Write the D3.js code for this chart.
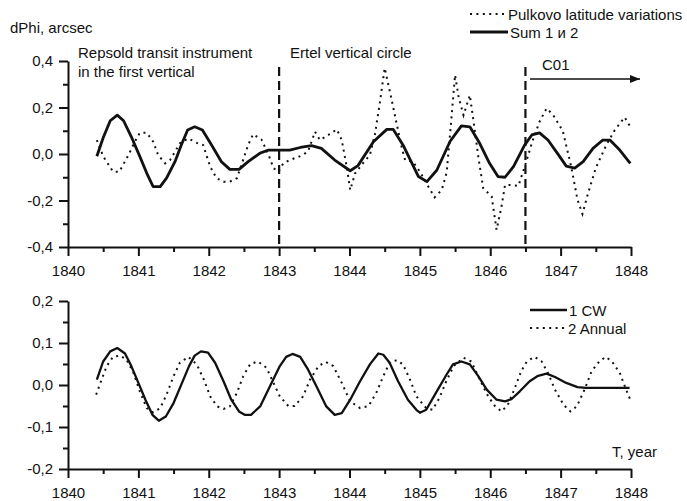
<!DOCTYPE html>
<html>
<head>
<meta charset="utf-8">
<script src="https://cdn.jsdelivr.net/npm/d3@7"></script>
<style>
  html, body { margin: 0; padding: 0; background: #fff; }
  svg { display: block; font-family: "Liberation Sans", Arial, sans-serif; }
  text { fill: #111; }
</style>
</head>
<body>
<svg id="chart" width="687" height="501"></svg>
<script>
// Years on the horizontal axis
const yearTicks = [1840, 1841, 1842, 1843, 1844, 1845, 1846, 1847, 1848];
const topTicks = [-0.4, -0.2, 0, 0.2, 0.4];
const bottomTicks = [-0.2, -0.1, 0, 0.1, 0.2];

// Pulkovo latitude variations, arcsec
const pulkovoT = [1840.41,1840.50,1840.64,1840.73,1840.86,1840.95,1841.02,1841.12,1841.21,1841.28,1841.38,1841.45,1841.52,1841.59,1841.71,1841.83,1841.92,1842.02,1842.11,1842.21,1842.30,1842.40,1842.48,1842.56,1842.63,1842.75,1842.85,1842.92,1842.99,1843.06,1843.15,1843.30,1843.41,1843.51,1843.58,1843.70,1843.82,1843.89,1843.96,1844.01,1844.08,1844.19,1844.29,1844.36,1844.43,1844.50,1844.60,1844.67,1844.74,1844.79,1844.90,1845.00,1845.12,1845.21,1845.31,1845.38,1845.43,1845.50,1845.55,1845.62,1845.71,1845.76,1845.83,1845.90,1846.02,1846.09,1846.16,1846.21,1846.30,1846.40,1846.49,1846.59,1846.70,1846.80,1846.89,1847.03,1847.15,1847.24,1847.31,1847.39,1847.50,1847.65,1847.77,1847.91,1847.99];
const pulkovoV = [0.06,-0.01,-0.076,-0.076,-0.004,0.053,0.091,0.091,0.053,-0.004,-0.04,-0.026,0.01,0.046,0.067,0.048,0.039,-0.054,-0.104,-0.119,-0.119,-0.104,-0.033,0.039,0.085,0.062,-0.004,-0.061,-0.076,-0.04,-0.026,-0.009,0.01,0.096,0.06,0.082,0.106,0.06,-0.054,-0.155,-0.083,-0.04,-0.004,0.082,0.218,0.37,0.232,0.13,0.031,-0.026,-0.033,-0.076,-0.14,-0.186,-0.155,-0.08,0.089,0.34,0.246,0.167,0.253,0.146,-0.011,-0.147,-0.183,-0.326,-0.226,-0.133,-0.133,-0.137,-0.054,0.046,0.139,0.196,0.17,0.1,-0.054,-0.197,-0.258,-0.169,-0.06,0.039,0.103,0.158,0.117];

// Sum of components 1 and 2
const sumT = [1840.41,1840.50,1840.60,1840.70,1840.79,1840.90,1841.02,1841.13,1841.21,1841.31,1841.40,1841.52,1841.61,1841.70,1841.80,1841.91,1842.04,1842.18,1842.30,1842.43,1842.56,1842.73,1842.85,1843.01,1843.15,1843.30,1843.46,1843.60,1843.79,1844.01,1844.12,1844.34,1844.53,1844.62,1844.76,1844.98,1845.10,1845.24,1845.43,1845.59,1845.71,1845.85,1845.99,1846.11,1846.21,1846.33,1846.49,1846.59,1846.70,1846.82,1846.97,1847.08,1847.20,1847.32,1847.46,1847.60,1847.70,1847.84,1847.99];
const sumV = [-0.01,0.07,0.143,0.167,0.143,0.074,-0.01,-0.09,-0.14,-0.14,-0.104,-0.033,0.039,0.103,0.117,0.103,0.039,-0.033,-0.066,-0.066,-0.033,0.004,0.017,0.017,0.017,0.028,0.036,0.024,-0.026,-0.072,-0.05,0.053,0.106,0.106,0.039,-0.097,-0.119,-0.07,0.055,0.121,0.117,0.046,-0.04,-0.097,-0.1,-0.054,0.039,0.082,0.091,0.06,-0.004,-0.052,-0.061,-0.033,0.024,0.06,0.06,0.017,-0.04];

// Component 1: Chandler wobble
const cwT = [1840.41,1840.50,1840.60,1840.70,1840.81,1840.90,1841.00,1841.10,1841.20,1841.29,1841.39,1841.50,1841.61,1841.72,1841.80,1841.89,1841.99,1842.09,1842.21,1842.32,1842.43,1842.51,1842.60,1842.73,1842.87,1843.01,1843.10,1843.19,1843.30,1843.41,1843.53,1843.67,1843.79,1843.89,1844.01,1844.15,1844.29,1844.41,1844.48,1844.57,1844.69,1844.83,1844.95,1845.00,1845.09,1845.23,1845.38,1845.47,1845.59,1845.71,1845.83,1845.95,1846.09,1846.21,1846.30,1846.42,1846.56,1846.68,1846.80,1846.92,1847.08,1847.24,1847.36,1847.65,1847.98];
const cwV = [0.013,0.056,0.08,0.088,0.075,0.045,0.005,-0.035,-0.071,-0.085,-0.075,-0.043,0.001,0.045,0.07,0.08,0.077,0.053,0.009,-0.035,-0.063,-0.071,-0.071,-0.051,-0.003,0.045,0.067,0.074,0.067,0.037,-0.003,-0.051,-0.071,-0.067,-0.035,0.009,0.049,0.075,0.072,0.053,0.009,-0.035,-0.059,-0.066,-0.059,-0.018,0.025,0.049,0.056,0.049,0.021,-0.011,-0.035,-0.039,-0.034,-0.015,0.009,0.022,0.027,0.019,0.005,-0.005,-0.007,-0.007,-0.007];

// Component 2: annual term
const annualT = [1840.40,1840.46,1840.55,1840.64,1840.74,1840.83,1840.93,1841.02,1841.12,1841.21,1841.31,1841.40,1841.50,1841.59,1841.71,1841.83,1841.93,1842.02,1842.12,1842.21,1842.30,1842.40,1842.49,1842.59,1842.70,1842.82,1842.92,1843.01,1843.13,1843.22,1843.34,1843.44,1843.56,1843.66,1843.77,1843.89,1844.01,1844.15,1844.27,1844.38,1844.48,1844.57,1844.67,1844.76,1844.86,1844.95,1845.09,1845.18,1845.28,1845.38,1845.48,1845.62,1845.73,1845.85,1845.97,1846.07,1846.16,1846.25,1846.34,1846.44,1846.52,1846.63,1846.73,1846.82,1846.92,1847.04,1847.14,1847.23,1847.34,1847.44,1847.55,1847.64,1847.73,1847.84,1847.93,1847.99];
const annualV = [-0.023,0.005,0.045,0.067,0.07,0.061,0.029,-0.015,-0.055,-0.065,-0.055,-0.023,0.021,0.053,0.067,0.049,0.013,-0.027,-0.051,-0.057,-0.051,-0.019,0.021,0.05,0.056,0.041,0.005,-0.027,-0.05,-0.05,-0.027,0.013,0.045,0.055,0.045,0.005,-0.039,-0.055,-0.05,-0.019,0.021,0.053,0.059,0.049,0.013,-0.027,-0.055,-0.059,-0.03,0.011,0.045,0.065,0.056,0.013,-0.027,-0.051,-0.063,-0.047,-0.011,0.033,0.056,0.067,0.056,0.029,-0.011,-0.047,-0.063,-0.051,-0.011,0.033,0.056,0.067,0.056,0.029,-0.011,-0.035];

// Instrument epochs (vertical dashed boundaries)
const epochBounds = [1843, 1846.5];

const svg = d3.select("#chart");
const INK = "#111";
const DOT = "2,4.4";

const x = d3.scaleLinear().domain([1840, 1848]).range([68, 631]);
const yTop = d3.scaleLinear().domain([-0.4, 0.4]).range([247, 61]);
const yBot = d3.scaleLinear().domain([-0.2, 0.2]).range([469, 301]);

const fmt = v => d3.format(".1f")(v).replace(".", ",").replace("−", "-");
const zip = (ts, vs) => ts.map((t, i) => [t, vs[i]]);

function drawAxes(y, yTicks, yMinorStep) {
  const [lo, hi] = y.domain();
  const minorY = d3.range(lo, hi + 1e-9, yMinorStep).filter(v => !yTicks.some(t => Math.abs(t - v) < 1e-9));
  const minorX = d3.range(1840.5, 1848, 1);
  const base = y.range()[0];

  // minor ticks
  svg.append("g").attr("transform", `translate(0,${base})`)
    .call(d3.axisBottom(x).tickValues(minorX).tickSize(5).tickFormat(""))
    .call(g => g.select(".domain").remove());
  svg.append("g").attr("transform", `translate(${x.range()[0]},0)`)
    .call(d3.axisLeft(y).tickValues(minorY).tickSize(5).tickFormat(""))
    .call(g => g.select(".domain").remove());

  // major ticks with labels
  const gx = svg.append("g").attr("transform", `translate(0,${base})`)
    .call(d3.axisBottom(x).tickValues(yearTicks).tickSize(9).tickSizeOuter(0).tickPadding(9).tickFormat(d3.format("d")));
  const gy = svg.append("g").attr("transform", `translate(${x.range()[0]},0)`)
    .call(d3.axisLeft(y).tickValues(yTicks).tickSize(9).tickSizeOuter(0).tickPadding(6).tickFormat(fmt));

  svg.selectAll("g.tick line, path.domain").attr("stroke", INK).attr("stroke-width", 2);
  [gx, gy].forEach(g => g.selectAll("text").attr("font-size", 15).attr("fill", INK)
    .attr("font-family", "Liberation Sans, Arial, sans-serif"));
}

drawAxes(yTop, topTicks, 0.1);
drawAxes(yBot, bottomTicks, 0.05);

const lineTop = d3.line().x(d => x(d[0])).y(d => yTop(d[1]));
const lineBot = d3.line().x(d => x(d[0])).y(d => yBot(d[1]));

// epoch boundaries
svg.selectAll("line.epoch").data(epochBounds).join("line")
  .attr("class", "epoch")
  .attr("x1", d => x(d)).attr("x2", d => x(d))
  .attr("y1", 67).attr("y2", yTop(-0.4))
  .attr("stroke", INK).attr("stroke-width", 2.2).attr("stroke-dasharray", "9,5");

// top panel series
svg.append("path").attr("d", lineTop(zip(pulkovoT, pulkovoV)))
  .attr("fill", "none").attr("stroke", INK).attr("stroke-width", 2).attr("stroke-dasharray", DOT);
svg.append("path").attr("d", lineTop(zip(sumT, sumV)))
  .attr("fill", "none").attr("stroke", INK).attr("stroke-width", 2.8).attr("stroke-linejoin", "round");

// bottom panel series
svg.append("path").attr("d", lineBot(zip(annualT, annualV)))
  .attr("fill", "none").attr("stroke", INK).attr("stroke-width", 2).attr("stroke-dasharray", DOT);
svg.append("path").attr("d", lineBot(zip(cwT, cwV)))
  .attr("fill", "none").attr("stroke", INK).attr("stroke-width", 2.3).attr("stroke-linejoin", "round");

// text labels
const label = (tx, ty, s) => svg.append("text").attr("x", tx).attr("y", ty).attr("font-size", 15).text(s);
label(10, 33, "dPhi, arcsec");
label(78, 58, "Repsold transit instrument");
label(78, 77, "in the first vertical");
label(290, 58, "Ertel vertical circle");
label(542, 70, "C01");
label(612, 457, "T, year");

// C01 arrow
svg.append("defs").append("marker")
  .attr("id", "arrowHead").attr("viewBox", "0 0 10 8").attr("refX", 10).attr("refY", 4)
  .attr("markerWidth", 10).attr("markerHeight", 8).attr("markerUnits", "userSpaceOnUse")
  .attr("orient", "auto")
  .append("path").attr("d", "M0,0L10,4L0,8Z").attr("fill", INK);
svg.append("line").attr("x1", 530).attr("x2", 640).attr("y1", 79).attr("y2", 79)
  .attr("stroke", INK).attr("stroke-width", 1.5).attr("marker-end", "url(#arrowHead)");

// legends
function legendRow(x0, x1, yy, dotted, w, text) {
  svg.append("line").attr("x1", x0).attr("x2", x1).attr("y1", yy).attr("y2", yy)
    .attr("stroke", INK).attr("stroke-width", w)
    .attr("stroke-dasharray", dotted ? DOT : null);
  svg.append("text").attr("x", x1 + 2).attr("y", yy + 5.5).attr("font-size", 15).text(text);
}
legendRow(470, 506, 14, true, 2, "Pulkovo latitude variations");
legendRow(470, 508, 32, false, 2.8, "Sum 1 и 2");
legendRow(530, 567, 310, false, 2.3, "1 CW");
legendRow(530, 566, 328, true, 2, "2 Annual");
</script>
</body>
</html>
